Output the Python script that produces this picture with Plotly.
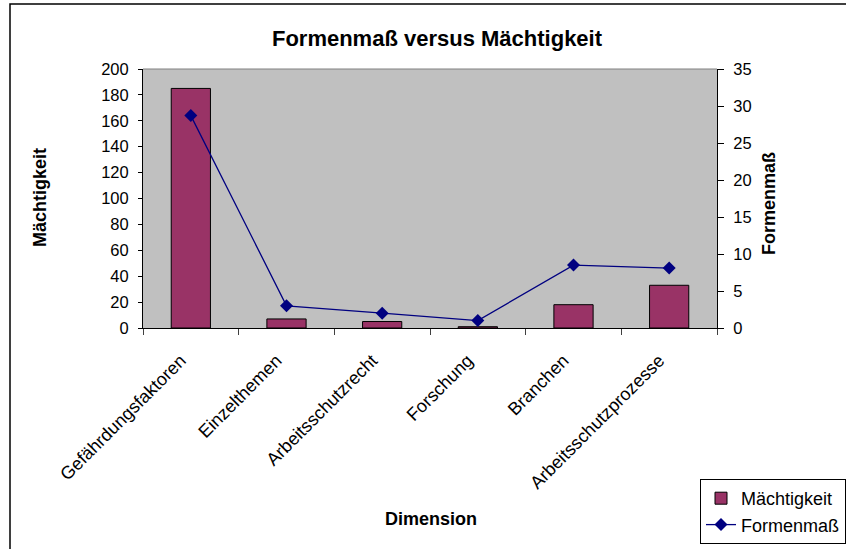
import plotly.graph_objects as go

# Chart data
dimensions = ["Gefährdungsfaktoren", "Einzelthemen", "Arbeitsschutzrecht",
              "Forschung", "Branchen", "Arbeitsschutzprozesse"]
maechtigkeit = [185, 7, 5, 1, 18, 33]
formenmass = [28.7, 3.0, 2.0, 1.0, 8.5, 8.1]

left_ticks = list(range(0, 201, 20))
right_ticks = list(range(0, 36, 5))

FONT = "Liberation Sans, Arial, sans-serif"
W, H = 846, 549
L, R, T, B = 143, 129, 69, 221
pw, ph = W - L - R, H - T - B


def px_x(x):
    return (x - L) / pw


def px_y(y):
    return (H - B - y) / ph


fig = go.Figure()
fig.add_trace(go.Bar(
    x=dimensions, y=maechtigkeit, name="Mächtigkeit",
    marker=dict(color="#993366", line=dict(color="black", width=1)),
    legendgroup="a", yaxis="y",
))
fig.add_trace(go.Scatter(
    x=dimensions, y=formenmass, name="Formenmaß", mode="lines+markers",
    line=dict(color="#000080", width=1.3),
    marker=dict(symbol="diamond", size=10, color="#000080"),
    legendgroup="b", yaxis="y2",
))

fig.update_layout(
    width=W, height=H,
    margin=dict(l=L, r=R, t=T, b=B, autoexpand=False),
    paper_bgcolor="white", plot_bgcolor="#C0C0C0",
    font=dict(family=FONT, size=16.5, color="black"),
    bargap=0.59,
    showlegend=True,
    title=dict(text="<b>Formenmaß versus Mächtigkeit</b>",
               font=dict(size=22, family=FONT, color="black"),
               xref="paper", x=px_x(437), xanchor="center",
               yref="container", y=1 - 38 / H, yanchor="middle"),
    xaxis=dict(
        type="category", tickson="boundaries", ticks="outside", ticklen=6,
        tickcolor="#404040", showline=True, linecolor="black", linewidth=1,
        tickangle=-45, showgrid=False, tickfont=dict(size=18),
        ticklabelstandoff=14, ticklabelshift=-10,
    ),
    yaxis=dict(
        range=[0, 200], tickvals=left_ticks, ticks="outside", ticklen=4,
        tickcolor="black", showline=True, linecolor="black", linewidth=1,
        showgrid=False, zeroline=False, ticklabelstandoff=6,
    ),
    yaxis2=dict(
        range=[0, 35], tickvals=right_ticks, overlaying="y", side="right",
        ticks="outside", ticklen=6, tickcolor="black", showline=True,
        linecolor="black", linewidth=1, showgrid=False, zeroline=False,
        ticklabelstandoff=6,
    ),
    legend=dict(
        x=px_x(700), xanchor="left", y=px_y(479), yanchor="top",
        bordercolor="black", borderwidth=1, bgcolor="white",
        font=dict(size=18), traceorder="grouped", tracegroupgap=0,
    ),
    shapes=[
        # top edge of the plot area
        dict(type="line", xref="paper", yref="paper", x0=0, x1=1, y0=1, y1=1,
             line=dict(color="#808080", width=1)),
        # chart frame
        dict(type="rect", xref="paper", yref="paper",
             x0=px_x(10), x1=px_x(900), y0=px_y(4), y1=px_y(600),
             line=dict(color="black", width=1.5)),
    ],
    annotations=[
        dict(text="<b>Mächtigkeit</b>", textangle=-90, xref="paper", yref="paper",
             x=px_x(40), y=px_y(198), xanchor="center", yanchor="middle",
             showarrow=False, font=dict(size=18)),
        dict(text="<b>Formenmaß</b>", textangle=-90, xref="paper", yref="paper",
             x=px_x(769), y=px_y(204), xanchor="center", yanchor="middle",
             showarrow=False, font=dict(size=18)),
        dict(text="<b>Dimension</b>", xref="paper", yref="paper",
             x=px_x(431), y=px_y(519), xanchor="center", yanchor="middle",
             showarrow=False, font=dict(size=18)),
    ],
)

fig.write_html("out.html")
